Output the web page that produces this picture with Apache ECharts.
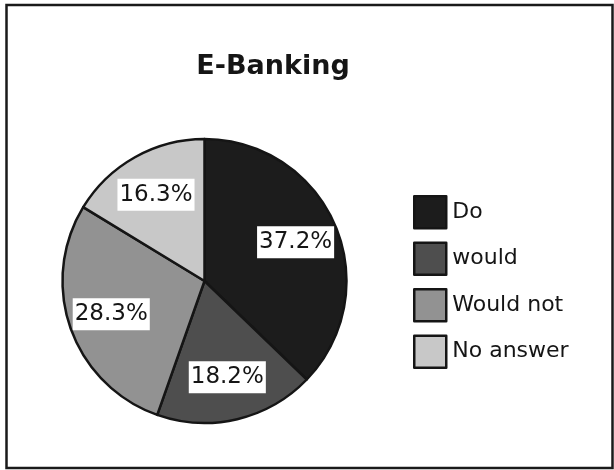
<!DOCTYPE html>
<html>
<head>
<meta charset="utf-8">
<style>
  html, body { margin: 0; padding: 0; background: #ffffff; }
  #chart { width: 614px; height: 470px; }
</style>
<script src="https://cdn.jsdelivr.net/npm/echarts@6/dist/echarts.min.js"></script>
</head>
<body>
<div id="chart"></div>
<script>
// Survey answers on using e-banking (percent of respondents)
const categories = ['Do', 'would', 'Would not', 'No answer'];
const shares = [37.2, 18.2, 28.3, 16.3];
const sliceColors = ['#1c1c1c', '#4e4e4e', '#929292', '#c8c8c8'];

const FONT = '"DejaVu Sans", "Liberation Sans", Arial, sans-serif';

const pieData = categories.map((name, i) => ({
  name: name,
  value: shares[i],
  itemStyle: { color: sliceColors[i] }
}));

const chart = echarts.init(document.getElementById('chart'), null, { renderer: 'canvas' });

chart.setOption({
  animation: false,
  backgroundColor: '#ffffff',
  title: {
    text: 'E-Banking',
    left: 268,
    top: 48,
    textAlign: 'center',
    textStyle: {
      fontFamily: FONT,
      fontWeight: 'bold',
      fontSize: 27,
      color: '#151515'
    }
  },
  legend: {
    orient: 'vertical',
    left: 413,
    top: 195,
    padding: 0,
    itemWidth: 32,
    itemHeight: 32,
    itemGap: 12,
    icon: 'rect',
    selectedMode: false,
    data: categories,
    itemStyle: { borderColor: '#151515', borderWidth: 2.5 },
    textStyle: {
      fontFamily: FONT,
      fontSize: 22,
      color: '#151515',
      padding: [0, 0, 0, 1]
    }
  },
  graphic: [{
    type: 'rect',
    shape: { x: 6.5, y: 5, width: 606, height: 463 },
    style: { fill: 'none', stroke: '#1a1a1a', lineWidth: 2.5 },
    silent: true,
    z: 100
  }],
  series: [
    {
      // the pie itself
      type: 'pie',
      center: [204.5, 281],
      radius: [0, 142],
      startAngle: 90,
      clockwise: true,
      label: { show: false },
      labelLine: { show: false },
      emphasis: { disabled: true },
      itemStyle: { borderColor: '#151515', borderWidth: 2.5 },
      data: pieData
    },
    {
      // value labels, boxed in white, sitting about two thirds out from the centre
      type: 'pie',
      center: [204.5, 281],
      radius: [50, 142],
      startAngle: 90,
      clockwise: true,
      silent: true,
      legendHoverLink: false,
      itemStyle: { color: 'rgba(0,0,0,0)', borderWidth: 0 },
      emphasis: { disabled: true },
      labelLine: { show: false },
      label: {
        show: true,
        position: 'inside',
        formatter: '{c}%',
        fontFamily: FONT,
        fontSize: 23,
        color: '#151515',
        backgroundColor: '#ffffff',
        padding: [5, 2, 4, 2]
      },
      data: categories.map((name, i) => ({ name: name, value: shares[i] }))
    }
  ]
});
</script>
</body>
</html>
